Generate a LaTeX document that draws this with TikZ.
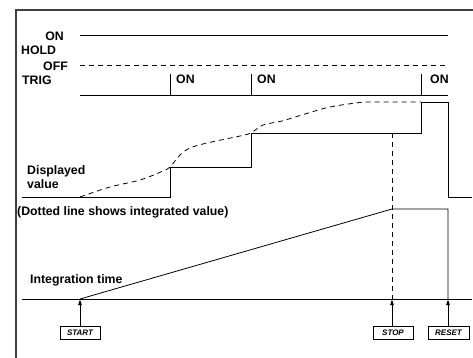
\documentclass[tikz,border=0pt]{standalone}
\usepackage{fontspec}
\setmainfont{Liberation Sans}
\usetikzlibrary{arrows.meta}
\begin{document}
\begin{tikzpicture}[x=1pt,y=-1pt,
  sig/.style={line width=0.8pt},
  dsig/.style={line width=0.8pt,dash pattern=on 5pt off 4pt},
  lbl/.style={font=\fontsize{12.3}{14}\selectfont\bfseries,inner sep=0pt},
  btn/.style={draw,line width=0.8pt,minimum width=40pt,minimum height=13pt,inner sep=0pt,
    font=\fontsize{8}{9}\selectfont\bfseries\itshape},
  arr/.style={line width=0.8pt,-{Latex[length=6pt,width=4pt]}}]
\useasboundingbox (0,0) rectangle (473,358);
% frame
\draw[line width=1.1pt,black!75] (16,358) -- (16,10) -- (473,10);
% labels
\node[lbl,anchor=base east] (lon) at (64,41) {ON};
\node[lbl,anchor=base west] (lhold) at (21,55) {HOLD};
\node[lbl,anchor=base east] (loff) at (68,71) {OFF};
\node[lbl,anchor=base west] (ltrig) at (22,85) {TRIG};
\node[lbl,anchor=base west] (ldisp) at (27,175) {Displayed};
\node[lbl,anchor=base west] (lval) at (27,188) {value};
\node[lbl,anchor=base west] (ldot) at (17,215) {(Dotted line shows integrated value)};
\node[lbl,anchor=base west] (lint) at (30,283) {Integration time};
% HOLD
\draw[sig] (80,35) -- (448,35);
\draw[dsig] (80,65) -- (448,65);
% TRIG
\draw[sig] (80,95) -- (448,95);
\draw[sig] (170,95) -- (170,74);
\draw[sig] (251,95) -- (251,74);
\draw[sig] (421,95) -- (421,74);
\node[lbl,anchor=base west] (ton1) at (176,84) {ON};
\node[lbl,anchor=base west] (ton2) at (257,84) {ON};
\node[lbl,anchor=base west] (ton3) at (430,84) {ON};
% displayed value
\draw[sig] (22,197) -- (170,197) -- (170,167) -- (251,167) -- (251,133) -- (421,133)
  -- (421,102) -- (448,102) -- (448,197) -- (472,197);
% integrated value (dashed)
\draw[dsig] plot[smooth,tension=0.55] coordinates {(80,197) (110,187) (140,180) (163,171) (170,167)
  (180,155) (190,148) (207,143) (240,136) (251,133) (263,125) (282,121) (305,114) (330,107) (360,102.5) (372,102)}
  -- (421,102);
% integration time
\draw[sig] (22,299) -- (472,299);
\coordinate (ps) at (80,299);
\coordinate (pp) at (392,299);
\coordinate (pr) at (448,299);
\draw[sig] (ps) -- (392,209) -- (448,209) -- (pr);
\draw[dsig] (392,133) -- (pp);
% buttons
\node[btn] (start) at (80,332.5) {START};
\node[btn] (stop) at (393,332.5) {STOP};
\node[btn,minimum width=41pt] (reset) at (448.5,332.5) {RESET};
\draw[arr] (start.north -| ps) -- (ps);
\draw[arr] (stop.north -| pp) -- (pp);
\draw[arr] (reset.north -| pr) -- (pr);
\end{tikzpicture}
\end{document}
